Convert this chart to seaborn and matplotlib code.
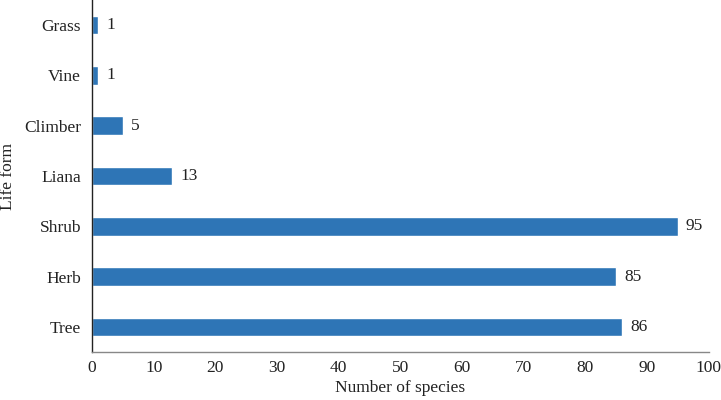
import matplotlib
matplotlib.use('Agg')
import matplotlib.pyplot as plt
import seaborn as sns
import pandas as pd

life_forms = ['Grass', 'Vine', 'Climber', 'Liana', 'Shrub', 'Herb', 'Tree']
species_counts = [1, 1, 5, 13, 95, 85, 86]

df = pd.DataFrame({'Life form': life_forms, 'Number of species': species_counts})

sns.set_style('white')
plt.rcParams['font.family'] = ['Liberation Serif', 'DejaVu Serif']

fig = plt.figure(figsize=(7.21, 4.0), dpi=100)
ax = fig.add_axes([0.1276, 0.12, 0.8554, 0.88])

sns.barplot(data=df, x='Number of species', y='Life form', order=life_forms,
            color='#2E75B6', saturation=1, width=0.37, ax=ax)

for i, v in enumerate(species_counts):
    ax.text(v + 1.3, i, str(v), va='center', ha='left', fontsize=12.5, color='#222222')

ax.set_xlim(0, 100)
ax.set_xticks(range(0, 101, 10))
ax.tick_params(axis='both', length=0, labelsize=12.5, colors='#222222')
ax.tick_params(axis='x', pad=6)
ax.tick_params(axis='y', pad=8)
ax.set_xlabel('Number of species', fontsize=12.5, color='#222222', labelpad=3)
ax.set_ylabel('Life form', fontsize=12.5, color='#222222', labelpad=6)

sns.despine(ax=ax)
ax.spines['left'].set_color('#222222')
ax.spines['left'].set_linewidth(1.0)
ax.spines['bottom'].set_color('#888888')
ax.spines['bottom'].set_linewidth(1.0)

fig.savefig('out.png', dpi=100)
